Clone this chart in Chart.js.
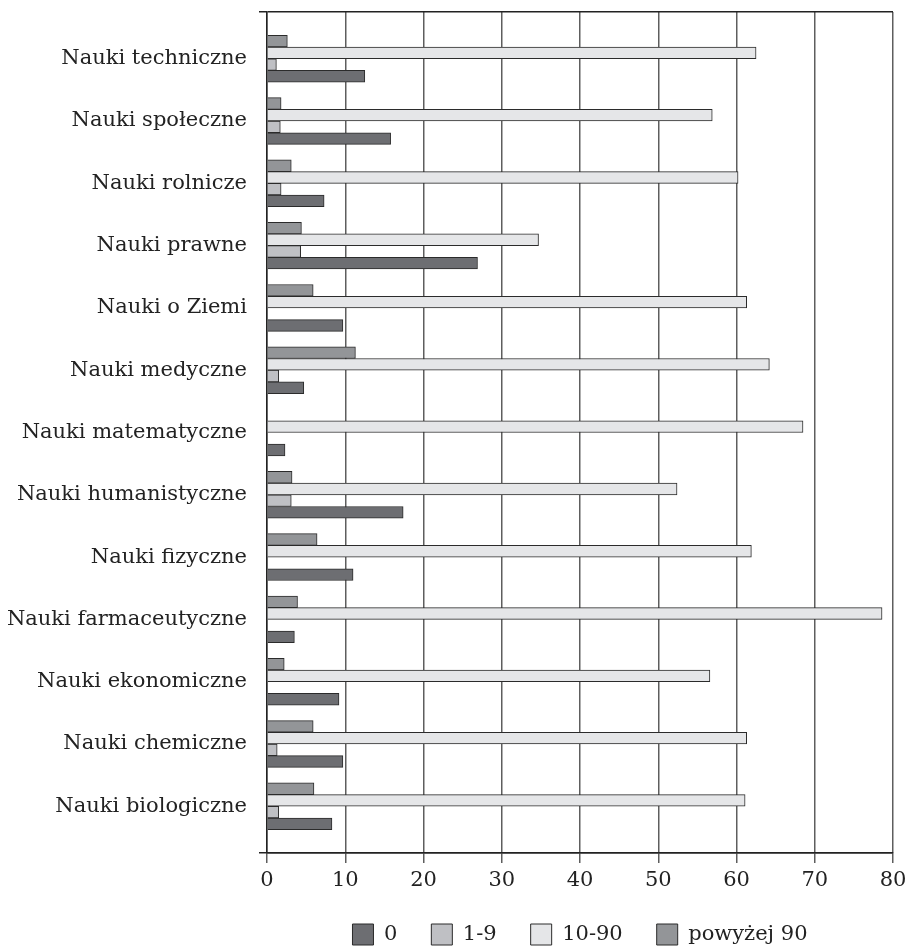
<!DOCTYPE html>
<html>
<head>
<meta charset="utf-8">
<script src="https://cdn.jsdelivr.net/npm/chart.js@4"></script>
<style>
  html, body { margin: 0; padding: 0; background: #fff; }
  #wrap { width: 911px; height: 947px; }
</style>
</head>
<body>
<div id="wrap"><canvas id="chart"></canvas></div>
<script>
const categories = [
    'Nauki techniczne', 'Nauki społeczne', 'Nauki rolnicze', 'Nauki prawne',
    'Nauki o Ziemi', 'Nauki medyczne', 'Nauki matematyczne', 'Nauki humanistyczne',
    'Nauki fizyczne', 'Nauki farmaceutyczne', 'Nauki ekonomiczne', 'Nauki chemiczne',
    'Nauki biologiczne'
];
const seriesNames = ['0', '1-9', '10-90', 'powyżej 90'];
const zero        = [12.5, 15.8, 7.3, 26.9, 9.7, 4.7, 2.3, 17.4, 11.0, 3.5, 9.2, 9.7, 8.3];
const oneToNine   = [1.2, 1.7, 1.8, 4.3, 0, 1.5, 0, 3.1, 0, 0, 0, 1.3, 1.5];
const tenToNinety = [62.5, 56.9, 60.2, 34.7, 61.3, 64.2, 68.5, 52.4, 61.9, 78.6, 56.6, 61.3, 61.1];
const above90     = [2.6, 1.8, 3.1, 4.4, 5.9, 11.3, 0, 3.2, 6.4, 3.9, 2.2, 5.9, 6.0];
const xTicks = [0, 10, 20, 30, 40, 50, 60, 70, 80];

const serif = "'DejaVu Serif', serif";
const ink = '#222';

const toPoints = values => values.map((v, i) => ({ x: v, y: i }));

// top bar of every group is "powyżej 90", bottom one is "0"
const datasets = [
    { label: seriesNames[3], data: toPoints(above90), backgroundColor: '#939598' },
    { label: seriesNames[2], data: toPoints(tenToNinety), backgroundColor: '#e5e6e8' },
    { label: seriesNames[1], data: toPoints(oneToNine), backgroundColor: '#bfc0c4' },
    { label: seriesNames[0], data: toPoints(zero), backgroundColor: '#6d6e72' }
].map(d => Object.assign(d, {
    borderColor: '#2b2b2b',
    borderWidth: 1,
    barThickness: 11.7
}));

// only the two end ticks of the category axis (frame top / bottom) are drawn
const isEndTick = ctx => ctx.tick !== undefined && !Number.isInteger(ctx.tick.value);

new Chart(document.getElementById('chart').getContext('2d'), {
    type: 'bar',
    data: { datasets: datasets },
    options: {
        indexAxis: 'y',
        responsive: true,
        maintainAspectRatio: false,
        animation: false,
        layout: { padding: { top: 0, right: 0, bottom: -8, left: 0 } },
        scales: {
            x: {
                type: 'linear',
                min: xTicks[0],
                max: xTicks[xTicks.length - 1],
                afterBuildTicks: scale => { scale.ticks = xTicks.map(v => ({ value: v })); },
                afterFit: scale => {
                    scale.height = 37;
                    scale.paddingRight = 18;
                },
                grid: { color: '#5e5e5e', lineWidth: 1.5, tickLength: 10 },
                border: { color: ink, width: 1.5 },
                ticks: { color: ink, padding: 7, font: { family: serif, size: 21, lineHeight: 1 } }
            },
            y: {
                type: 'linear',
                reverse: true,
                offset: false,
                min: -0.75,
                max: categories.length - 0.25,
                afterFit: scale => {
                    scale.width = 267;
                    scale.paddingTop = 12;
                    scale.paddingBottom = 0;
                },
                grid: {
                    offset: false,
                    color: ctx => isEndTick(ctx) ? ink : 'rgba(0,0,0,0)',
                    lineWidth: 1.5,
                    tickLength: 8
                },
                border: { color: ink, width: 1.5 },
                ticks: {
                    stepSize: 1,
                    autoSkip: false,
                    padding: 12,
                    color: ink,
                    font: { family: serif, size: 21 },
                    callback: v => Number.isInteger(v) ? categories[v] : ''
                }
            }
        },
        plugins: {
            tooltip: { enabled: false },
            legend: {
                position: 'bottom',
                fullSize: false,
                align: 'center',
                reverse: true,
                labels: {
                    boxWidth: 21,
                    boxHeight: 21,
                    padding: 34,
                    color: ink,
                    font: { family: serif, size: 21 }
                }
            }
        }
    }
});
</script>
</body>
</html>
